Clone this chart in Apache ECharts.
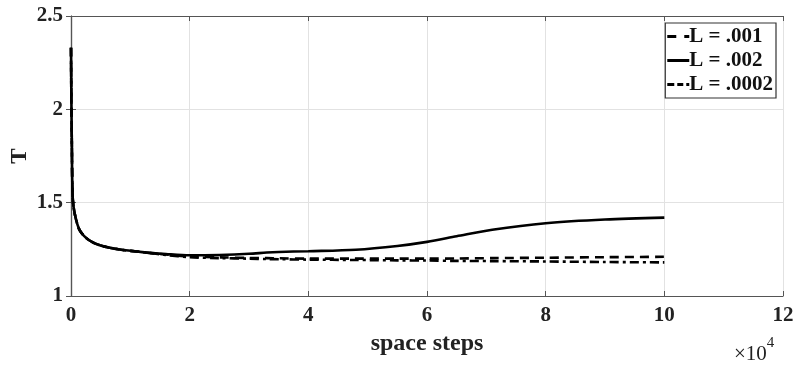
<!DOCTYPE html>
<html><head><meta charset="utf-8">
<script src="https://cdn.jsdelivr.net/npm/echarts@6/dist/echarts.min.js"></script>
<style>html,body{margin:0;padding:0;background:#fff}#c{width:795px;height:365px}</style>
</head><body><div id="c"></div>
<script>
// space steps in units of 1e4
const xs    = [0, 0.005, 0.015, 0.03, 0.07, 0.15, 0.3, 0.5, 0.8, 1.2, 1.6, 2, 2.5, 3, 3.3, 3.5, 4, 4.8, 5.5, 6, 6.5, 7.1, 8, 9, 10];
const L002  = [2.33, 2.1, 1.8, 1.52, 1.43, 1.35, 1.30, 1.27, 1.25, 1.235, 1.225, 1.218, 1.22, 1.226, 1.233, 1.236, 1.24, 1.248, 1.268, 1.29, 1.32, 1.355, 1.39, 1.41, 1.42];
const L001  = [2.33, 2.1, 1.8, 1.52, 1.43, 1.35, 1.30, 1.27, 1.25, 1.235, 1.222, 1.212, 1.207, 1.204, 1.203, 1.202, 1.2, 1.2, 1.2, 1.2, 1.201, 1.203, 1.205, 1.208, 1.21];
const L0002 = [2.33, 2.1, 1.8, 1.52, 1.43, 1.35, 1.30, 1.27, 1.25, 1.235, 1.22, 1.208, 1.203, 1.2, 1.198, 1.197, 1.195, 1.193, 1.191, 1.19, 1.188, 1.187, 1.185, 1.182, 1.18];
const names = ['L = .001', 'L = .002', 'L = .0002'];
const xTicks = [0, 2, 4, 6, 8, 10, 12];
const yTicks = [1, 1.5, 2, 2.5];

const pair = a => xs.map((x, i) => [x, a[i]]);
const font = 'Liberation Serif';
const axisCommon = {
  axisLine: {show: true, lineStyle: {color: '#555', width: 1.2}},
  axisTick: {show: true, inside: true, length: 5, lineStyle: {color: '#555'}},
};
const icons = [
  'path://M0,0h9v3h-9z M17,0h5v3h-5z',
  'path://M0,0h22v3h-22z',
  'path://M0,0h7v3h-7z M10,0h6v3h-6z M19,0h3v3h-3z'
];
const chart = echarts.init(document.getElementById('c'), null, {renderer: 'canvas'});
chart.setOption({
  animation: false,
  backgroundColor: '#fff',
  grid: {left: 71, right: 12, top: 16, bottom: 69, containLabel: false, outerBoundsMode: 'none'},
  legend: {
    orient: 'vertical', right: 19, top: 23,
    data: names.map((n, i) => ({name: n, icon: icons[i]})),
    backgroundColor: '#fff',
    borderColor: '#333', borderWidth: 1.2, borderRadius: 0,
    padding: [3, 3, 3, 2], itemGap: 3, itemWidth: 22, itemHeight: 3,
    itemStyle: {color: '#000', borderWidth: 0},
    textStyle: {fontFamily: font, fontWeight: 'bold', fontSize: 21, lineHeight: 21, color: '#111', padding: [0, 0, 0, -5]}
  },
  xAxis: [{
    type: 'value', min: 0, max: 12, interval: 2,
    name: 'space steps', nameLocation: 'middle', nameGap: 36, nameMoveOverlap: false,
    nameTextStyle: {fontFamily: font, fontWeight: 'bold', fontSize: 24, color: '#222'},
    axisLabel: {fontFamily: font, fontWeight: 'bold', fontSize: 21, color: '#222', margin: 9,
      formatter: v => xTicks.includes(v) ? String(v) : ''},
    splitLine: {show: true, lineStyle: {color: '#e2e2e2', width: 1}},
    ...axisCommon
  }, {
    type: 'value', min: 0, max: 12, interval: 2, position: 'top',
    axisLabel: {show: false}, splitLine: {show: false}, ...axisCommon
  }],
  yAxis: [{
    type: 'value', min: 1, max: 2.5, interval: 0.5,
    name: 'T', nameLocation: 'middle', nameGap: 39, nameMoveOverlap: false,
    nameTextStyle: {fontFamily: font, fontWeight: 'bold', fontSize: 23, color: '#222'},
    axisLabel: {fontFamily: font, fontWeight: 'bold', fontSize: 21, color: '#222', margin: 8,
      formatter: v => yTicks.includes(v) ? String(v) : ''},
    splitLine: {show: true, lineStyle: {color: '#e2e2e2', width: 1}},
    ...axisCommon
  }, {
    type: 'value', min: 1, max: 2.5, interval: 0.5, position: 'right',
    axisLabel: {show: false}, splitLine: {show: false}, ...axisCommon
  }],
  graphic: [{
    type: 'text', left: 734, top: 336,
    style: {
      text: '{a|×10}{b|4}',
      rich: {
        a: {fontFamily: font, fontSize: 21, fill: '#222', verticalAlign: 'bottom', padding: [8, 0, 0, 0]},
        b: {fontFamily: font, fontSize: 15, fill: '#222', verticalAlign: 'top', padding: [0, 0, 12, 0]}
      }
    }
  }],
  series: [
    {name: names[0], type: 'line', data: pair(L001), symbol: 'none', smooth: 0.3, z: 3,
     lineStyle: {color: '#000', width: 2.6, type: [9, 6]}, itemStyle: {color: '#000'}},
    {name: names[1], type: 'line', data: pair(L002), symbol: 'none', smooth: 0.3, z: 4,
     lineStyle: {color: '#000', width: 2.6, type: 'solid'}, itemStyle: {color: '#000'}},
    {name: names[2], type: 'line', data: pair(L0002), symbol: 'none', smooth: 0.3, z: 2,
     lineStyle: {color: '#000', width: 2.6, type: [9, 4, 3, 4]}, itemStyle: {color: '#000'}}
  ]
});
</script></body></html>
